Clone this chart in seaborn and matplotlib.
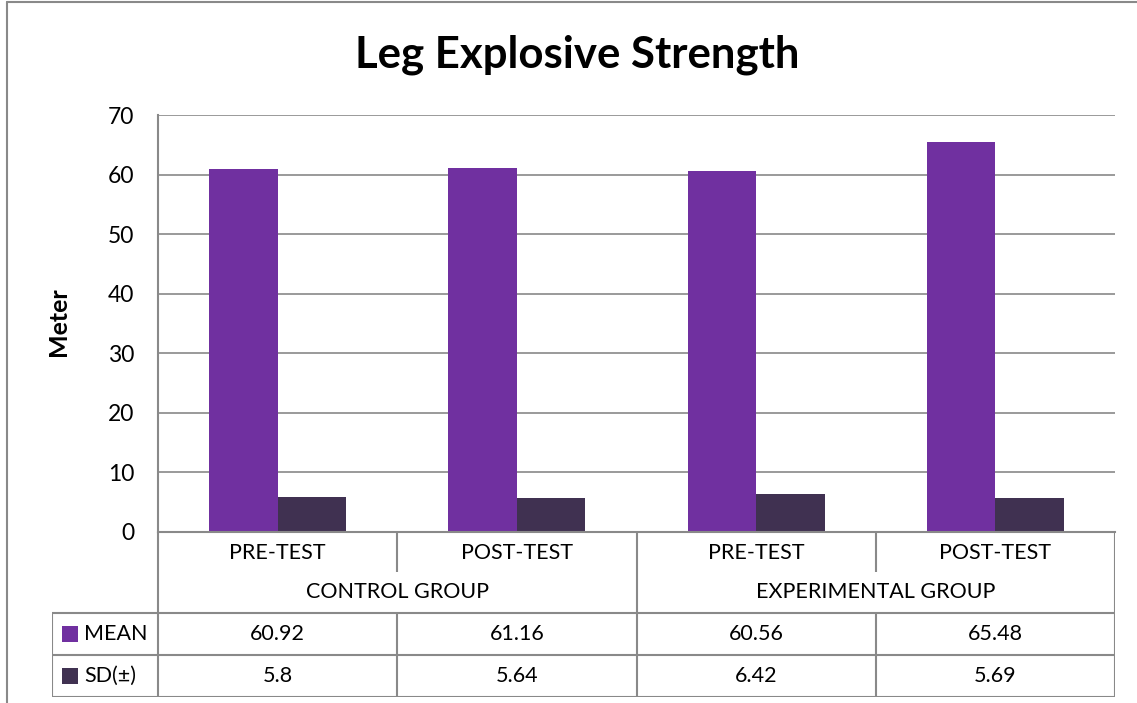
import matplotlib
matplotlib.use("Agg")
import matplotlib.pyplot as plt
from matplotlib.lines import Line2D
from matplotlib.patches import Rectangle
import pandas as pd
import seaborn as sns

# --- DATA ---
groups = ["CONTROL GROUP", "EXPERIMENTAL GROUP"]
tests = ["PRE-TEST", "POST-TEST"]
series = ["MEAN", "SD(±)"]
mean_vals = [60.92, 61.16, 60.56, 65.48]
sd_vals = [5.8, 5.64, 6.42, 5.69]
table_text = [["60.92", "61.16", "60.56", "65.48"], ["5.8", "5.64", "6.42", "5.69"]]
colors = ["#7030A0", "#403151"]
grid_col = "#898989"

sns.set_theme(style="white", rc={"text.color": "black", "ytick.color": "black"})
plt.rcParams["font.family"] = ["Lato", "DejaVu Sans"]

cats = [f"{g} {t}" for g in groups for t in tests]
df = pd.DataFrame({
    "cat": cats * 2,
    "series": [series[0]] * 4 + [series[1]] * 4,
    "value": mean_vals + sd_vals,
})

W, H = 1137, 703
fig = plt.figure(figsize=(W / 100, H / 100), dpi=100)

# pixel layout of the plot area
px_l, px_r, px_t, px_b = 158, 1115, 115, 532
ax = fig.add_axes([px_l / W, 1 - px_b / H, (px_r - px_l) / W, (px_b - px_t) / H])
sns.barplot(data=df, x="cat", y="value", hue="series", order=cats, hue_order=series,
            palette=colors, width=0.573, saturation=1, linewidth=0, legend=False, ax=ax)
ax.set_xlim(-0.5, 3.5)
ax.set_ylim(0, 70)
ax.set_yticks(range(0, 71, 10))
ax.yaxis.grid(True, color=grid_col, lw=1.2)
ax.set_axisbelow(True)
ax.set_xticks([])
ax.set_xlabel("")
ax.set_ylabel("")
ax.tick_params(axis="y", length=0, pad=17, labelsize=16.5, labelcolor="black")
for s in ["top", "right"]:
    ax.spines[s].set_visible(False)
for s in ["left", "bottom"]:
    ax.spines[s].set_color(grid_col)
    ax.spines[s].set_linewidth(1.5)

fig.text(58 / W, 1 - 322 / H, "Meter", rotation=90, ha="center", va="center",
         fontsize=18, fontweight="bold")
fig.text(577 / W, 1 - 55 / H, "Leg Explosive Strength", ha="center", va="center",
         fontsize=31.5, fontweight="bold")

# --- data table under the chart ---
unit = (px_r - px_l) / 4
tb_l, tb_b = 52, 697
x_left = -0.5 - (px_l - tb_l) / unit
tax = fig.add_axes([tb_l / W, 1 - tb_b / H, (px_r - tb_l) / W, (tb_b - px_b) / H])
tax.set_xlim(x_left, 3.5)
tax.set_ylim(tb_b - px_b, 0)
tax.axis("off")

rows = [0, 40, 81, 123, 165]
lkw = dict(color=grid_col, lw=1.5, solid_capstyle="butt")
# horizontal lines
for y in rows[2:]:
    tax.plot([x_left, 3.5], [y, y], **lkw)
# vertical lines
for x in [-0.5, 1.5, 3.5]:
    tax.plot([x, x], [rows[0], rows[4]], **lkw)
for x in [0.5, 2.5]:
    tax.plot([x, x], [rows[0], rows[1]], **lkw)
    tax.plot([x, x], [rows[2], rows[4]], **lkw)
tax.plot([x_left, x_left], [rows[2], rows[4]], **lkw)

fs = 15.5
for i, t in enumerate(tests * 2):
    tax.text(i, (rows[0] + rows[1]) / 2 + 1, t, ha="center", va="center", fontsize=fs)
for j, g in enumerate(groups):
    tax.text(2 * j + 0.5, (rows[1] + rows[2]) / 2, g, ha="center", va="center", fontsize=fs)
for r, (name, vals) in enumerate(zip(series, table_text)):
    yc = (rows[2 + r] + rows[3 + r]) / 2
    for i, v in enumerate(vals):
        tax.text(i, yc, v, ha="center", va="center", fontsize=fs)
    sq = 16 / unit
    tax.add_patch(Rectangle((x_left + 10 / unit, yc - 8), sq, 16, color=colors[r], lw=0))
    tax.text(x_left + 32 / unit, yc, name, ha="left", va="center", fontsize=fs)

# chart frame
fig.add_artist(Line2D([7 / W, 7 / W], [0, 1 - 2 / H], color=grid_col, lw=1.5))
fig.add_artist(Line2D([7 / W, 1], [1 - 2 / H, 1 - 2 / H], color=grid_col, lw=1.5))

fig.savefig("out.png", dpi=100)
